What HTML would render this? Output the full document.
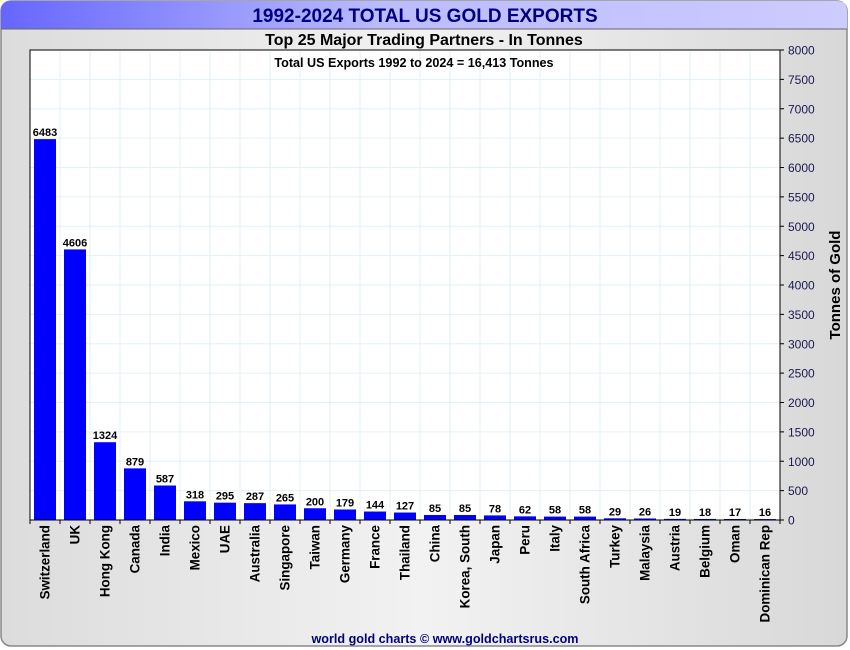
<!DOCTYPE html>
<html><head><meta charset="utf-8"><style>
html,body{margin:0;padding:0;background:#fff}
svg{display:block;font-family:"Liberation Sans",Arial,sans-serif}
</style></head><body>
<svg id="c" width="850" height="650" xmlns="http://www.w3.org/2000/svg">
<defs>
<linearGradient id="bg" x1="0" y1="0" x2="1" y2="0"><stop offset="0" stop-color="#dcdcdc"/><stop offset="0.5" stop-color="#f2f2f2"/><stop offset="1" stop-color="#d8d8d8"/></linearGradient>
<linearGradient id="tb" x1="0" y1="0" x2="1" y2="0"><stop offset="0" stop-color="#6666ff"/><stop offset="0.45" stop-color="#bbbbff"/><stop offset="1" stop-color="#ccccff"/></linearGradient>
</defs>
<rect x="1" y="1" width="846" height="645" rx="10" fill="url(#bg)" stroke="#888" stroke-width="1.5"/>
<path d="M1,29 L1,11 Q1,1 11,1 L837,1 Q847,1 847,11 L847,29 Z" fill="url(#tb)"/>
<line x1="1" y1="29" x2="847" y2="29" stroke="#666"/>
<text x="425" y="22" text-anchor="middle" font-size="19" font-weight="bold" fill="#000080">1992-2024 TOTAL US GOLD EXPORTS</text>
<text x="424" y="45" text-anchor="middle" font-size="16" font-weight="bold" fill="#000">Top 25 Major Trading Partners - In Tonnes</text>
<rect x="30" y="50" width="750" height="470" fill="#fff"/>
<g id="grid"></g>
<g id="bars"></g>
<rect x="30" y="50" width="750" height="470" fill="none" stroke="#000" stroke-width="1"/>
<text x="414" y="67" text-anchor="middle" font-size="12.6" font-weight="bold" fill="#000">Total US Exports 1992 to 2024 = 16,413 Tonnes</text>
<g id="axes"></g>
<text transform="translate(840,285) rotate(-90)" text-anchor="middle" font-size="15" font-weight="bold" fill="#000">Tonnes of Gold</text>
<text x="445" y="643" text-anchor="middle" font-size="12.6" font-weight="bold" fill="#000080">world gold charts © www.goldchartsrus.com</text>
</svg>
<script>
const categories=["Switzerland","UK","Hong Kong","Canada","India","Mexico","UAE","Australia","Singapore","Taiwan","Germany","France","Thailand","China","Korea, South","Japan","Peru","Italy","South Africa","Turkey","Malaysia","Austria","Belgium","Oman","Dominican Rep"];
const values=[6483,4606,1324,879,587,318,295,287,265,200,179,144,127,85,85,78,62,58,58,29,26,19,18,17,16];
const yTicks=[0,500,1000,1500,2000,2500,3000,3500,4000,4500,5000,5500,6000,6500,7000,7500,8000];
const NS="http://www.w3.org/2000/svg";
const L=30,R=780,T=50,B=520,YMAX=8000;
const slot=(R-L)/categories.length;
function y(v){return B-(v/YMAX)*(B-T);}
function x(i){return L+i*slot;}
function mk(tag,attrs,parent){const e=document.createElementNS(NS,tag);for(const k in attrs)e.setAttribute(k,attrs[k]);parent.appendChild(e);return e;}
const grid=document.getElementById('grid'),bars=document.getElementById('bars'),axes=document.getElementById('axes');
yTicks.forEach(t=>{
  const g=mk('line',{x1:L,x2:R,y1:y(t),y2:y(t),stroke:'#e2f0fa','stroke-width':1},grid);
  
  
  const tk=mk('line',{x1:R,x2:R+4,y1:y(t),y2:y(t),stroke:'#000'},axes);
  
  
  const lb=mk('text',{x:R+8,y:y(t)+4.5,'font-size':12,fill:'#1a1a50'},axes);
  lb.textContent=t;
  
  
});
categories.forEach((c,i)=>{
  if(i>0){const g=mk('line',{x1:x(i),x2:x(i),y1:T,y2:B,stroke:'#e2f0fa'},grid);
  
  }
  const v=values[i];
  const b=mk('rect',{x:x(i)+4,y:y(v),width:22,height:B-y(v),fill:'#0000ff'},bars);
  
  
  const vl=mk('text',{x:x(i)+15,y:y(v)-3,'text-anchor':'middle','font-size':11,'font-weight':'bold',fill:'#000'},bars);
  vl.textContent=v;
  
  
  const tk=mk('line',{x1:x(i),x2:x(i),y1:B,y2:B+4,stroke:'#000'},axes);
  
  
  const cl=mk('text',{transform:'translate('+(x(i)+19.5)+','+(B+5)+') rotate(-90)','text-anchor':'end','font-size':13.4,'font-weight':'bold',fill:'#000'},axes);
  cl.textContent=c;
  
  
});
const lt=mk('line',{x1:R,x2:R,y1:B,y2:B+4,stroke:'#000'},axes);


</script>
</body></html>
